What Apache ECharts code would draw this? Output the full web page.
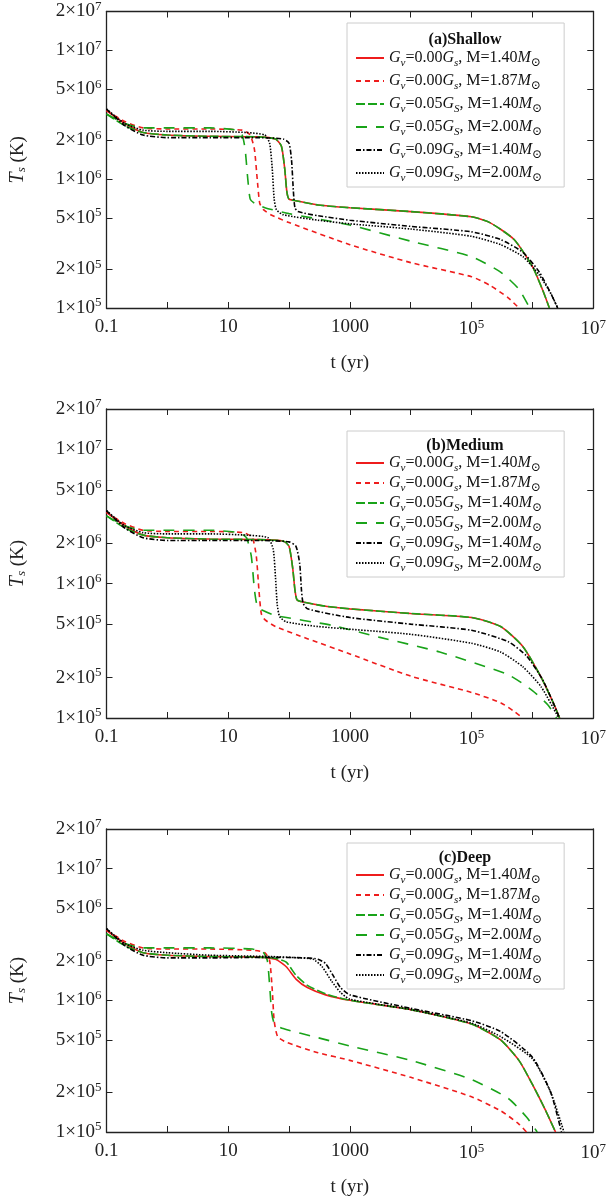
<!DOCTYPE html>
<html>
<head>
<meta charset="utf-8">
<script src="https://cdn.jsdelivr.net/npm/echarts@6/dist/echarts.min.js"></script>
<style>
  html, body { margin: 0; padding: 0; background: #fff; }
  #chart { width: 609px; height: 1198px; }
</style>
</head>
<body>
<div id="chart"></div>
<script>
// tick labels
var xTicks = [0.1, 10, 1000, 1e5, 1e7];
var yTicks = [1e5, 2e5, 5e5, 1e6, 2e6, 5e6, 1e7, 2e7];
var panelTitles = ['(a)Shallow', '(b)Medium', '(c)Deep'];
var seriesNames = ['0.00,s,1.40', '0.00,s,1.87', '0.05,S,1.40', '0.05,S,2.00', '0.09,S,1.40', '0.09,S,2.00'];

// t (yr) and Ts (K), one pair of arrays per curve
// panel (a) shallow
var a_t0 = [0.1, 0.2, 0.4, 1, 5, 30, 60, 75, 85, 92, 100, 130, 300, 1000, 1e4, 1e5, 2e5, 5e5, 1e6, 1.5e6, 1.9e6];
var a_T0 = [3.4e6, 2.7e6, 2.3e6, 2.2e6, 2.15e6, 2.13e6, 2.05e6, 1.8e6, 1.2e6, 8e5, 7e5, 6.8e5, 6.3e5, 6e5, 5.6e5, 5.1e5, 4.6e5, 3.4e5, 2.1e5, 1.35e5, 1e5];
var a_t1 = [0.1, 0.2, 0.4, 1, 5, 17, 23, 27, 30, 33, 38, 50, 100, 1000, 1e4, 1e5, 2e5, 4e5, 6e5];
var a_T1 = [3.4e6, 2.8e6, 2.5e6, 2.45e6, 2.45e6, 2.4e6, 2.2e6, 1.7e6, 1e6, 6.5e5, 5.8e5, 5.3e5, 4.6e5, 3.1e5, 2.25e5, 1.75e5, 1.5e5, 1.2e5, 1e5];
var a_t2 = a_t0.slice();
var a_T2 = [3.2e6, 2.6e6, 2.3e6, 2.2e6, 2.15e6, 2.13e6, 2.05e6, 1.8e6, 1.2e6, 8e5, 7e5, 6.8e5, 6.3e5, 6e5, 5.6e5, 5.1e5, 4.6e5, 3.4e5, 2.1e5, 1.35e5, 1e5];
var a_t3 = [0.1, 0.2, 0.4, 1, 5, 14, 17, 19, 21, 23, 27, 40, 100, 1000, 1e4, 1e5, 3e5, 6e5, 9e5];
var a_T3 = [3.2e6, 2.7e6, 2.5e6, 2.5e6, 2.5e6, 2.4e6, 2.2e6, 1.7e6, 1e6, 7e5, 6.5e5, 6e5, 5.4e5, 4.4e5, 3.3e5, 2.5e5, 1.9e5, 1.4e5, 1e5];
var a_t4 = [0.1, 0.2, 0.4, 1, 5, 30, 80, 100, 110, 118, 125, 140, 300, 1000, 1e4, 1e5, 3e5, 7e5, 1.3e6, 2e6, 2.6e6];
var a_T4 = [3.5e6, 2.6e6, 2.2e6, 2.1e6, 2.1e6, 2.1e6, 2.05e6, 1.9e6, 1.4e6, 8e5, 6e5, 5.6e5, 5.2e5, 4.8e5, 4.3e5, 3.9e5, 3.4e5, 2.7e5, 1.9e5, 1.3e5, 1e5];
var a_t5 = [0.1, 0.2, 0.4, 1, 5, 20, 40, 48, 53, 57, 62, 80, 300, 1000, 1e4, 1e5, 3e5, 7e5, 1.3e6, 2e6, 2.6e6];
var a_T5 = [3.5e6, 2.7e6, 2.4e6, 2.35e6, 2.35e6, 2.3e6, 2.2e6, 1.9e6, 1.2e6, 7e5, 5.8e5, 5.3e5, 4.8e5, 4.5e5, 4.1e5, 3.6e5, 3.1e5, 2.5e5, 1.8e5, 1.3e5, 1e5];

// panel (b) medium
var b_t0 = [0.1, 0.2, 0.4, 1, 5, 30, 80, 100, 115, 125, 135, 170, 400, 1000, 1e4, 1e5, 3e5, 7e5, 1.4e6, 2.2e6, 2.8e6];
var b_T0 = [3.4e6, 2.7e6, 2.3e6, 2.2e6, 2.15e6, 2.13e6, 2.08e6, 1.9e6, 1.3e6, 9e5, 7.6e5, 7.3e5, 6.8e5, 6.5e5, 6e5, 5.6e5, 4.8e5, 3.4e5, 2e5, 1.3e5, 1e5];
var b_t1 = [0.1, 0.2, 0.4, 1, 5, 18, 25, 29, 32, 35, 40, 60, 200, 1000, 1e4, 1e5, 3e5, 5e5, 7e5];
var b_T1 = [3.4e6, 2.8e6, 2.5e6, 2.45e6, 2.45e6, 2.4e6, 2.2e6, 1.6e6, 9e5, 6e5, 5.4e5, 4.8e5, 3.9e5, 3e5, 2.05e5, 1.55e5, 1.3e5, 1.12e5, 1e5];
var b_t2 = b_t0.slice();
var b_T2 = [3.2e6, 2.6e6, 2.3e6, 2.2e6, 2.15e6, 2.13e6, 2.08e6, 1.9e6, 1.3e6, 9e5, 7.6e5, 7.3e5, 6.8e5, 6.5e5, 6e5, 5.6e5, 4.8e5, 3.4e5, 2e5, 1.3e5, 1e5];
var b_t3 = [0.1, 0.2, 0.4, 1, 5, 15, 20, 24, 27, 30, 35, 60, 500, 3000, 3e4, 4e5, 1e6, 1.8e6, 2.5e6];
var b_T3 = [3.2e6, 2.7e6, 2.5e6, 2.5e6, 2.5e6, 2.4e6, 2.2e6, 1.6e6, 9e5, 6.8e5, 6.4e5, 5.8e5, 4.9e5, 4e5, 3.1e5, 2.1e5, 1.6e5, 1.25e5, 1e5];
var b_t4 = [0.1, 0.2, 0.4, 1, 5, 30, 100, 130, 150, 160, 170, 200, 1000, 1e4, 1e5, 4e5, 8e5, 1.5e6, 2.8e6];
var b_T4 = [3.5e6, 2.6e6, 2.2e6, 2.1e6, 2.1e6, 2.1e6, 2.05e6, 1.9e6, 1.4e6, 9e5, 7.2e5, 6.5e5, 5.6e5, 5e5, 4.5e5, 3.7e5, 2.9e5, 1.9e5, 1e5];
var b_t5 = [0.1, 0.2, 0.4, 1, 5, 20, 45, 55, 60, 64, 70, 90, 300, 1e4, 1e5, 3e5, 7e5, 1.4e6, 2.7e6];
var b_T5 = [3.5e6, 2.7e6, 2.4e6, 2.35e6, 2.35e6, 2.3e6, 2.2e6, 1.8e6, 1.1e6, 7e5, 5.7e5, 5.2e5, 4.8e5, 4.2e5, 3.6e5, 3.1e5, 2.4e5, 1.7e5, 1e5];

// panel (c) deep
var c_t0 = [0.1, 0.2, 0.4, 1, 5, 30, 60, 90, 130, 200, 400, 1000, 1e4, 1e5, 3e5, 6e5, 1e6, 1.6e6, 2.4e6];
var c_T0 = [3.4e6, 2.7e6, 2.3e6, 2.2e6, 2.15e6, 2.13e6, 2.05e6, 1.8e6, 1.45e6, 1.25e6, 1.1e6, 1e6, 8.5e5, 6.6e5, 5e5, 3.5e5, 2.3e5, 1.5e5, 1e5];
var c_t1 = [0.1, 0.2, 0.4, 1, 5, 25, 40, 48, 53, 57, 65, 90, 300, 1000, 1e4, 1e5, 3e5, 6e5, 8e5];
var c_T1 = [3.4e6, 2.8e6, 2.5e6, 2.45e6, 2.45e6, 2.4e6, 2.3e6, 2e6, 1.2e6, 7e5, 5.3e5, 4.8e5, 4e5, 3.5e5, 2.6e5, 1.85e5, 1.45e5, 1.15e5, 1e5];
var c_t2 = c_t0.slice();
var c_T2 = [3.2e6, 2.6e6, 2.3e6, 2.2e6, 2.15e6, 2.13e6, 2.08e6, 1.95e6, 1.55e6, 1.3e6, 1.12e6, 1e6, 8.5e5, 6.6e5, 5e5, 3.5e5, 2.3e5, 1.5e5, 1e5];
var c_t3 = [0.1, 0.2, 0.4, 1, 5, 25, 38, 44, 48, 52, 58, 80, 300, 1000, 1e4, 1e5, 4e5, 8e5, 1.2e6];
var c_T3 = [3.2e6, 2.7e6, 2.5e6, 2.5e6, 2.5e6, 2.45e6, 2.3e6, 2e6, 1.3e6, 8e5, 6.6e5, 6.1e5, 5.2e5, 4.5e5, 3.5e5, 2.5e5, 1.8e5, 1.3e5, 1e5];
var c_t4 = [0.1, 0.2, 0.4, 1, 5, 50, 200, 300, 400, 550, 700, 1000, 1e4, 1e5, 3e5, 1e6, 2e6, 3e6];
var c_T4 = [3.5e6, 2.6e6, 2.2e6, 2.1e6, 2.1e6, 2.12e6, 2.1e6, 2.05e6, 1.9e6, 1.5e6, 1.25e6, 1.1e6, 8.7e5, 7e5, 5.8e5, 3.7e5, 2e5, 1e5];
var c_t5 = [0.1, 0.2, 0.4, 1, 5, 50, 150, 250, 350, 500, 700, 1000, 1e4, 1e5, 3e5, 1e6, 2e6, 3.3e6];
var c_T5 = [3.5e6, 2.7e6, 2.4e6, 2.3e6, 2.2e6, 2.15e6, 2.1e6, 2.05e6, 1.8e6, 1.4e6, 1.15e6, 1.02e6, 8.5e5, 6.7e5, 5.3e5, 3.6e5, 2e5, 1e5];

var panelT = [[a_t0, a_t1, a_t2, a_t3, a_t4, a_t5], [b_t0, b_t1, b_t2, b_t3, b_t4, b_t5], [c_t0, c_t1, c_t2, c_t3, c_t4, c_t5]];
var panelTs = [[a_T0, a_T1, a_T2, a_T3, a_T4, a_T5], [b_T0, b_T1, b_T2, b_T3, b_T4, b_T5], [c_T0, c_T1, c_T2, c_T3, c_T4, c_T5]];

var FONT = '"Liberation Serif", "DejaVu Serif", serif';
var lineStyles = [
    {color: '#ee1c1c', type: 'solid'},
    {color: '#ee1c1c', type: [5, 4]},
    {color: '#19a319', type: [9, 3]},
    {color: '#19a319', type: [11, 9]},
    {color: '#000', type: [5, 2, 1.5, 2]},
    {color: '#000', type: [1.5, 1.5]}
];
var grids = [
    {left: 103, right: 12, top: 5, height: 303},
    {left: 103, right: 12, top: 409, height: 309},
    {left: 103, right: 12, top: 829, height: 308}
];
// legend box tops, top paddings, item gaps, title tops
var legendTops = [23, 431, 843];
var legendPadTop = [27, 24, 24];
var legendGaps = [4, 1, 1];
var titleTops = [27, 433, 845];

var lg = function (v) { return Math.log(v) / Math.LN10; };
var yLabel = function (v) {
    var e = Math.floor(v + 1e-6), m = Math.round(Math.pow(10, v - e));
    return '{n|' + m + '×10}{s|' + e + '}';
};
var xLabel = function (v) {
    var r = Math.round(v);
    if (r === -1) return '{n|0.1}';
    if (r === 1) return '{n|10}';
    if (r === 3) return '{n|1000}';
    return '{n|10}{s|' + r + '}';
};
var rich = {
    n: {fontFamily: FONT, fontSize: 19, color: '#222'},
    s: {fontFamily: FONT, fontSize: 13, color: '#222', verticalAlign: 'top', padding: [0, 0, 10, 0]}
};
var legRich = {
    i: {fontFamily: FONT, fontSize: 16, fontStyle: 'italic', color: '#111'},
    n: {fontFamily: FONT, fontSize: 16, color: '#111'},
    b: {fontFamily: FONT, fontSize: 11, fontStyle: 'italic', color: '#111', verticalAlign: 'bottom', padding: [6, 0, 0, 0]},
    o: {fontFamily: FONT, fontSize: 12, color: '#111', verticalAlign: 'bottom', padding: [10, 0, 0, 0]}
};
var legName = function (name) {
    var p = name.split(',');
    return '{i|G}{b|v}{n|=' + p[0] + '}{i|G}{b|' + p[1] + '}{n|, M=' + p[2] + '}{i|M}{o|⊙}';
};

var option = {
    animation: false,
    backgroundColor: '#fff',
    grid: grids,
    xAxis: [], yAxis: [], series: [], legend: [], title: []
};
var xTickVals = xTicks.map(lg), yTickVals = yTicks.map(lg);
var allXTicks = [-1, 0, 1, 2, 3, 4, 5, 6, 7];
for (var p = 0; p < 3; p++) {
    var base = {
        type: 'value', gridIndex: p, splitLine: {show: false},
        axisLine: {onZero: false, lineStyle: {color: '#222', width: 1.3}}
    };
    option.xAxis.push(Object.assign({}, base, {
        min: -1, max: 7,
        name: 't (yr)', nameLocation: 'middle', nameGap: 46,
        nameTextStyle: {fontFamily: FONT, fontSize: 19, color: '#222'},
        axisTick: {inside: true, length: 6, customValues: allXTicks, lineStyle: {color: '#222'}},
        axisLabel: {customValues: xTickVals, formatter: xLabel, rich: rich, margin: 10}
    }));
    option.xAxis.push(Object.assign({}, base, {
        min: -1, max: 7, position: 'top',
        axisTick: {inside: true, length: 6, customValues: allXTicks, lineStyle: {color: '#222'}},
        axisLabel: {show: false}
    }));
    option.yAxis.push(Object.assign({}, base, {
        min: 5, max: lg(2e7),
        name: '{i|T}{b|s}{n| (K)}', nameLocation: 'middle', nameGap: 78,
        nameTextStyle: {rich: {
            i: {fontFamily: FONT, fontSize: 20, fontStyle: 'italic', color: '#222'},
            b: {fontFamily: FONT, fontSize: 13, fontStyle: 'italic', color: '#222', verticalAlign: 'bottom', padding: [8, 0, 0, 0]},
            n: {fontFamily: FONT, fontSize: 19, color: '#222'}
        }},
        axisTick: {inside: true, length: 6, customValues: yTickVals, lineStyle: {color: '#222'}},
        axisLabel: {customValues: yTickVals, formatter: yLabel, rich: rich, margin: 5}
    }));
    option.yAxis.push(Object.assign({}, base, {
        min: 5, max: lg(2e7), position: 'right',
        axisTick: {inside: true, length: 6, customValues: yTickVals, lineStyle: {color: '#222'}},
        axisLabel: {show: false}
    }));
    var names = [];
    for (var s = 0; s < 6; s++) {
        var ts = panelT[p][s], Ts = panelTs[p][s], data = [];
        for (var k = 0; k < ts.length; k++) data.push([lg(ts[k]), lg(Ts[k])]);
        var nm = 'p' + p + ':' + seriesNames[s];
        names.push(nm);
        option.series.push({
            type: 'line', name: nm, xAxisIndex: 2 * p, yAxisIndex: 2 * p,
            data: data, symbol: 'none', smooth: 0.2, clip: true,
            lineStyle: {color: lineStyles[s].color, type: lineStyles[s].type, width: 1.6},
            itemStyle: {color: lineStyles[s].color}
        });
    }
    option.legend.push({
        data: names, orient: 'vertical', left: 347, top: legendTops[p],
        width: 226, padding: [legendPadTop[p], 22, 3, 8], itemGap: legendGaps[p],
        itemWidth: 28, itemHeight: 12, itemStyle: {opacity: 0},
        backgroundColor: '#fff', borderColor: '#ccc', borderWidth: 1,
        selectedMode: false,
        formatter: function (n) { return legName(n.split(':')[1]); },
        textStyle: {rich: legRich}
    });
    option.title.push({
        text: panelTitles[p], left: 460, textAlign: 'center', top: titleTops[p],
        textStyle: {fontFamily: FONT, fontSize: 16, fontWeight: 'bold', color: '#111'}
    });
}

var chart = echarts.init(document.getElementById('chart'));
chart.setOption(option);
</script>
</body>
</html>
